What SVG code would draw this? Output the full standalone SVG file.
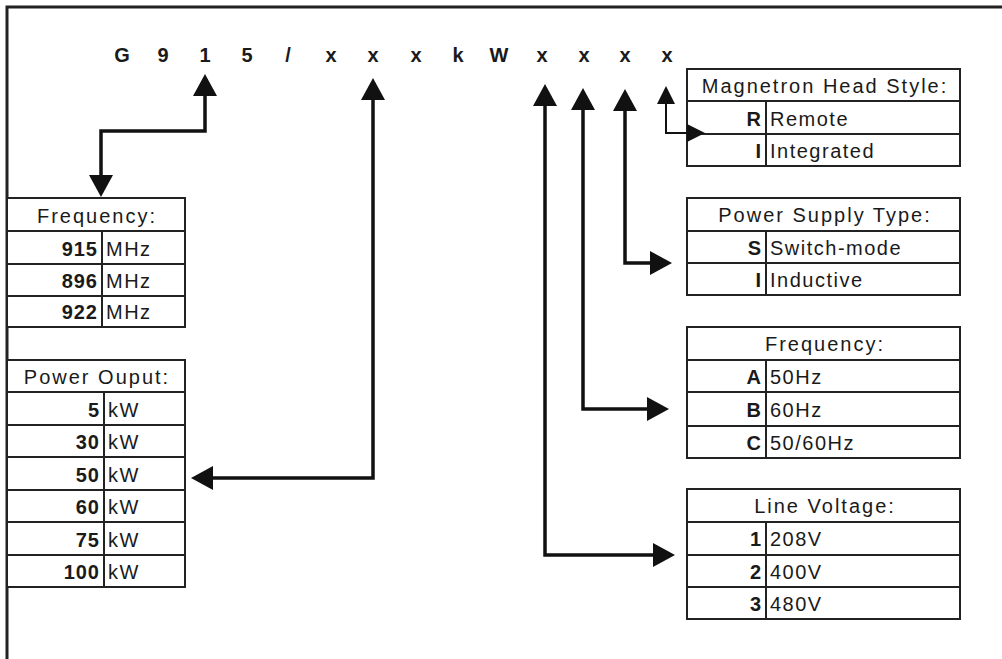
<svg xmlns="http://www.w3.org/2000/svg" width="1002" height="659" viewBox="0 0 1002 659">
<style>
text{font-family:"Liberation Sans",Arial,sans-serif;fill:#1a1a1a}
.code{font-size:20px;font-weight:bold;text-anchor:middle}
.hd{font-size:20px;letter-spacing:2px;text-anchor:middle}
.v{font-size:20px;font-weight:bold;text-anchor:end;letter-spacing:1px}
.u{font-size:20px;letter-spacing:1.5px}
.box{fill:#fff;stroke:#222;stroke-width:2}
.ln{stroke:#222;stroke-width:2;fill:none}
.con{fill:none;stroke:#111;stroke-width:3.5}
.thin{fill:none;stroke:#111;stroke-width:2}
</style>
<defs>
<marker id="ah" viewBox="0 0 22 24" refX="0" refY="12" markerWidth="22" markerHeight="24" markerUnits="userSpaceOnUse" orient="auto-start-reverse"><path d="M0,0 L22,12 L0,24 z" fill="#111"/></marker>
<marker id="ahs" viewBox="0 0 18 18" refX="0" refY="9" markerWidth="18" markerHeight="18" markerUnits="userSpaceOnUse" orient="auto-start-reverse"><path d="M0,0 L18,9 L0,18 z" fill="#111"/></marker>
</defs>
<rect width="1002" height="659" fill="#fff"/>
<path d="M7,659 L7,7 L1002,7" fill="none" stroke="#222" stroke-width="3"/>
<g id="code">
<text class="code" x="122" y="62">G</text>
<text class="code" x="163" y="62">9</text>
<text class="code" x="205" y="62">1</text>
<text class="code" x="247" y="62">5</text>
<text class="code" x="288" y="62">/</text>
<text class="code" x="331" y="62">x</text>
<text class="code" x="373" y="62">x</text>
<text class="code" x="416" y="62">x</text>
<text class="code" x="458" y="62">k</text>
<text class="code" x="499" y="62">W</text>
<text class="code" x="542" y="62">x</text>
<text class="code" x="584" y="62">x</text>
<text class="code" x="625" y="62">x</text>
<text class="code" x="667" y="62">x</text>
</g>
<g id="connectors">
<path class="con" d="M205,96 L205,131 L101,131 L101,175" marker-start="url(#ah)" marker-end="url(#ah)"/>
<path class="con" d="M373,100 L373,478 L213,478" marker-start="url(#ah)" marker-end="url(#ah)"/>
<path class="con" d="M545,106 L545,555 L653,555" marker-start="url(#ah)" marker-end="url(#ah)"/>
<path class="con" d="M583,110 L583,409 L647,409" marker-start="url(#ah)" marker-end="url(#ah)"/>
<path class="con" d="M625,111 L625,263 L650,263" marker-start="url(#ah)" marker-end="url(#ah)"/>
</g>
<g id="freq-mhz">
<rect class="box" x="7" y="198" width="178" height="129"/>
<path class="ln" d="M7,231 H185 M7,264 H185 M7,296 H185 M102,231 V327"/>
<text class="hd" x="97" y="223">Frequency:</text>
<text class="v" x="98" y="256">915</text><text class="u" x="106" y="256">MHz</text>
<text class="v" x="98" y="288">896</text><text class="u" x="106" y="288">MHz</text>
<text class="v" x="98" y="319">922</text><text class="u" x="106" y="319">MHz</text>
</g>
<g id="power-output">
<rect class="box" x="7" y="360" width="178" height="227"/>
<path class="ln" d="M7,392 H185 M7,425 H185 M7,457 H185 M7,490 H185 M7,522 H185 M7,555 H185 M104,392 V587"/>
<text class="hd" x="97" y="384">Power Ouput:</text>
<text class="v" x="100" y="417">5</text><text class="u" x="108" y="417">kW</text>
<text class="v" x="100" y="449">30</text><text class="u" x="108" y="449">kW</text>
<text class="v" x="100" y="482">50</text><text class="u" x="108" y="482">kW</text>
<text class="v" x="100" y="514">60</text><text class="u" x="108" y="514">kW</text>
<text class="v" x="100" y="547">75</text><text class="u" x="108" y="547">kW</text>
<text class="v" x="100" y="579">100</text><text class="u" x="108" y="579">kW</text>
</g>
<g id="head-style">
<rect class="box" x="687" y="69" width="273" height="97"/>
<path class="ln" d="M687,101 H960 M687,134 H960 M766,101 V166"/>
<text class="hd" x="825" y="93">Magnetron Head Style:</text>
<text class="v" x="762" y="126">R</text><text class="u" x="770" y="126">Remote</text>
<text class="v" x="762" y="158">I</text><text class="u" x="770" y="158">Integrated</text>
<path class="thin" d="M666,104 L666,133 L687,133" marker-start="url(#ahs)" marker-end="url(#ahs)"/>
</g>
<g id="supply-type">
<rect class="box" x="687" y="198" width="273" height="97"/>
<path class="ln" d="M687,231 H960 M687,263 H960 M766,231 V295"/>
<text class="hd" x="825" y="222">Power Supply Type:</text>
<text class="v" x="762" y="255">S</text><text class="u" x="770" y="255">Switch-mode</text>
<text class="v" x="762" y="287">I</text><text class="u" x="770" y="287">Inductive</text>
</g>
<g id="freq-hz">
<rect class="box" x="687" y="327" width="273" height="131"/>
<path class="ln" d="M687,360 H960 M687,392 H960 M687,426 H960 M766,360 V458"/>
<text class="hd" x="825" y="351">Frequency:</text>
<text class="v" x="762" y="384">A</text><text class="u" x="770" y="384">50Hz</text>
<text class="v" x="762" y="417">B</text><text class="u" x="770" y="417">60Hz</text>
<text class="v" x="762" y="450">C</text><text class="u" x="770" y="450">50/60Hz</text>
</g>
<g id="line-voltage">
<rect class="box" x="687" y="489" width="273" height="130"/>
<path class="ln" d="M687,522 H960 M687,555 H960 M687,587 H960 M766,522 V619"/>
<text class="hd" x="825" y="513">Line Voltage:</text>
<text class="v" x="762" y="546">1</text><text class="u" x="770" y="546">208V</text>
<text class="v" x="762" y="579">2</text><text class="u" x="770" y="579">400V</text>
<text class="v" x="762" y="611">3</text><text class="u" x="770" y="611">480V</text>
</g>
</svg>
